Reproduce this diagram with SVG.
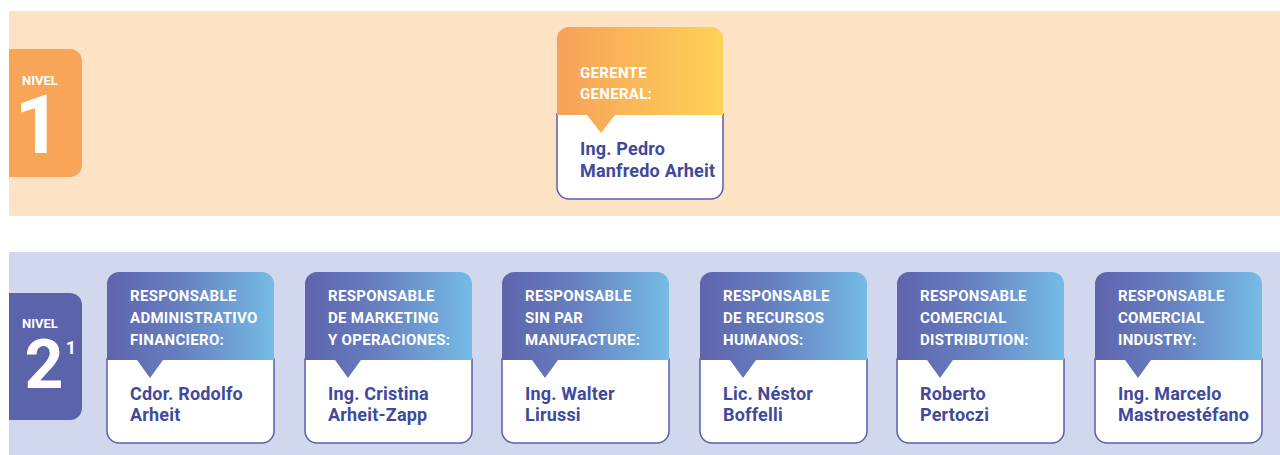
<svg xmlns="http://www.w3.org/2000/svg" width="1280" height="455" viewBox="0 0 1280 455">
<defs>
<linearGradient id="gOr" x1="0" y1="0" x2="1" y2="0">
<stop offset="0" stop-color="#f6a159"/>
<stop offset="1" stop-color="#fed257"/>
</linearGradient>
<linearGradient id="gBl" x1="0" y1="0" x2="1" y2="0">
<stop offset="0" stop-color="#5f64ad"/>
<stop offset="0.45" stop-color="#6680c0"/>
<stop offset="1" stop-color="#75bce6"/>
</linearGradient>
<path id="body" d="M0,87 V159 A12,12 0 0 0 12,171 H155 A12,12 0 0 0 167,159 V87 Z"/>
<path id="head" d="M0,88 V12 A12,12 0 0 1 12,0 H155 A12,12 0 0 1 167,12 V88 H56 L43,106 L30,88 Z"/>
</defs>
<style>
.body{fill:#ffffff;stroke:#5a5fae;stroke-width:1.5}
.hd{font-family:Roboto,"Liberation Sans",sans-serif;font-weight:700;font-size:15px;fill:#ffffff;letter-spacing:0.3px}
.nm{font-family:Roboto,"Liberation Sans",sans-serif;font-weight:700;font-size:18px;fill:#3f4a9c;letter-spacing:0.2px}
.nv{font-family:Roboto,"Liberation Sans",sans-serif;font-weight:700;fill:#ffffff}
</style>
<rect x="9" y="11" width="1271" height="205" fill="#fde3c3"/>
<rect x="9" y="252" width="1271" height="203" fill="#d1d7ec"/>

<g id="nivel1">
<path d="M9,49 H70 A12,12 0 0 1 82,61 V165 A12,12 0 0 1 70,177 H9 Z" fill="#f8a557"/>
<text class="nv" x="22" y="85" font-size="13">NIVEL</text>
<text class="nv" x="38" y="153" font-size="82" text-anchor="middle">1</text>
</g>

<g id="nivel2">
<path d="M9,293 H70 A12,12 0 0 1 82,305 V408 A12,12 0 0 1 70,420 H9 Z" fill="#5b63ab"/>
<text class="nv" x="22" y="328" font-size="13">NIVEL</text>
<text class="nv" x="44" y="388" font-size="68" text-anchor="middle">2</text>
<text class="nv" x="71" y="354" font-size="18" text-anchor="middle">1</text>
</g>

<g id="gerente" transform="translate(557,27)">
<path class="body" d="M0,87 V160 A12,12 0 0 0 12,172 H154 A12,12 0 0 0 166,160 V87 Z"/>
<path d="M0,88 V12 A12,12 0 0 1 12,0 H154 A12,12 0 0 1 166,12 V88 H58 L44,106 L30,88 Z" fill="url(#gOr)"/>
<text class="hd" x="23" y="51">GERENTE</text>
<text class="hd" x="23" y="72">GENERAL:</text>
<text class="nm" x="23" y="128">Ing. Pedro</text>
<text class="nm" x="23" y="150">Manfredo Arheit</text>
</g>

<g id="resp-admin" transform="translate(107,272)">
<use href="#body" class="body"/>
<use href="#head" fill="url(#gBl)"/>
<text class="hd" x="23" y="29">RESPONSABLE</text>
<text class="hd" x="23" y="51">ADMINISTRATIVO</text>
<text class="hd" x="23" y="73">FINANCIERO:</text>
<text class="nm" x="23" y="128">Cdor. Rodolfo</text>
<text class="nm" x="23" y="149">Arheit</text>
</g>

<g id="resp-marketing" transform="translate(305,272)">
<use href="#body" class="body"/>
<use href="#head" fill="url(#gBl)"/>
<text class="hd" x="23" y="29">RESPONSABLE</text>
<text class="hd" x="23" y="51">DE MARKETING</text>
<text class="hd" x="23" y="73">Y OPERACIONES:</text>
<text class="nm" x="23" y="128">Ing. Cristina</text>
<text class="nm" x="23" y="149">Arheit-Zapp</text>
</g>

<g id="resp-sinpar" transform="translate(502,272)">
<use href="#body" class="body"/>
<use href="#head" fill="url(#gBl)"/>
<text class="hd" x="23" y="29">RESPONSABLE</text>
<text class="hd" x="23" y="51">SIN PAR</text>
<text class="hd" x="23" y="73">MANUFACTURE:</text>
<text class="nm" x="23" y="128">Ing. Walter</text>
<text class="nm" x="23" y="149">Lirussi</text>
</g>

<g id="resp-rrhh" transform="translate(700,272)">
<use href="#body" class="body"/>
<use href="#head" fill="url(#gBl)"/>
<text class="hd" x="23" y="29">RESPONSABLE</text>
<text class="hd" x="23" y="51">DE RECURSOS</text>
<text class="hd" x="23" y="73">HUMANOS:</text>
<text class="nm" x="23" y="128">Lic. Néstor</text>
<text class="nm" x="23" y="149">Boffelli</text>
</g>

<g id="resp-distribution" transform="translate(897,272)">
<use href="#body" class="body"/>
<use href="#head" fill="url(#gBl)"/>
<text class="hd" x="23" y="29">RESPONSABLE</text>
<text class="hd" x="23" y="51">COMERCIAL</text>
<text class="hd" x="23" y="73">DISTRIBUTION:</text>
<text class="nm" x="23" y="128">Roberto</text>
<text class="nm" x="23" y="149">Pertoczi</text>
</g>

<g id="resp-industry" transform="translate(1095,272)">
<use href="#body" class="body"/>
<use href="#head" fill="url(#gBl)"/>
<text class="hd" x="23" y="29">RESPONSABLE</text>
<text class="hd" x="23" y="51">COMERCIAL</text>
<text class="hd" x="23" y="73">INDUSTRY:</text>
<text class="nm" x="23" y="128">Ing. Marcelo</text>
<text class="nm" x="23" y="149">Mastroestéfano</text>
</g>

<g id="connectors"/>
</svg>
